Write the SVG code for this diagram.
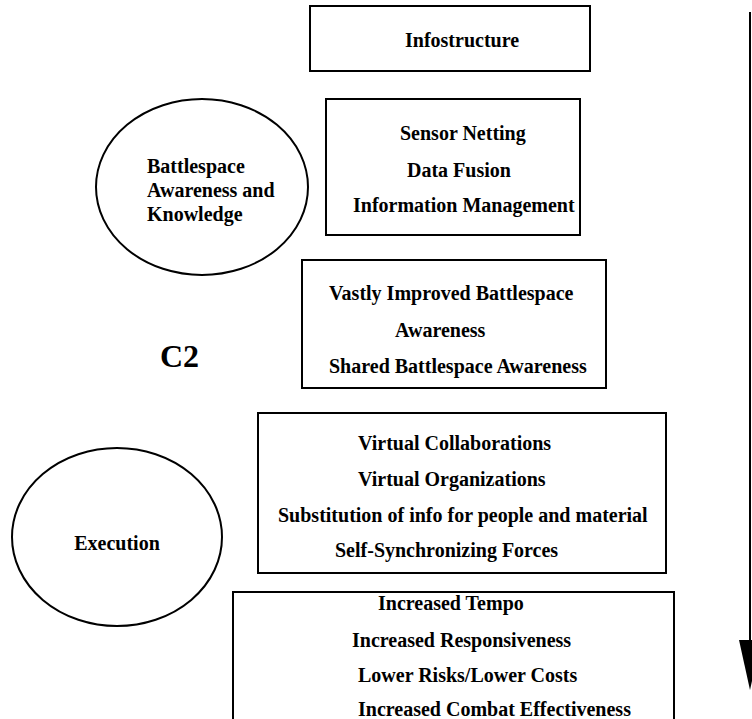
<svg xmlns="http://www.w3.org/2000/svg" width="752" height="719" viewBox="0 0 752 719">
<defs>
<style>
.box{fill:#fff;stroke:#000;stroke-width:2}
.ell{fill:#fff;stroke:#000;stroke-width:2}
text{font-family:"Liberation Serif","Times New Roman",serif;font-weight:bold;font-size:20px;fill:#000}
.c2{font-size:32px}
.conn{stroke:#000;stroke-width:2;fill:none}
</style>
<marker id="ah" markerWidth="10" markerHeight="12" refX="5" refY="12" orient="auto" markerUnits="userSpaceOnUse" viewBox="0 0 10 12">
<path d="M0,0 L10,0 L5,12 Z" fill="#000"/>
</marker>
</defs>
<rect width="752" height="719" fill="#fff"/>
<g id="connectors">
<line class="conn" x1="750" y1="12" x2="750" y2="640"/>
<path d="M739,640 L761,640 L750,690 Z" fill="#000"/>
</g>
<g id="infostructure">
<rect class="box" x="310" y="6" width="280" height="65"/>
<text x="405" y="47">Infostructure</text>
</g>
<g id="sensor">
<rect class="box" x="326" y="99" width="254" height="136"/>
<text x="400" y="140">Sensor Netting</text>
<text x="407" y="177">Data Fusion</text>
<text x="353" y="212">Information Management</text>
</g>
<g id="battlespace">
<ellipse class="ell" cx="202" cy="187" rx="106" ry="88"/>
<text x="147" y="173">Battlespace</text>
<text x="147" y="197">Awareness and</text>
<text x="147" y="221">Knowledge</text>
</g>
<g id="vastly">
<rect class="box" x="302" y="260" width="304" height="128"/>
<text x="329" y="300">Vastly Improved Battlespace</text>
<text x="395" y="337">Awareness</text>
<text x="329" y="373">Shared Battlespace Awareness</text>
</g>
<g id="c2">
<text class="c2" x="160" y="367">C2</text>
</g>
<g id="virtual">
<rect class="box" x="258" y="413" width="408" height="160"/>
<text x="358" y="450">Virtual Collaborations</text>
<text x="358" y="486">Virtual Organizations</text>
<text x="278" y="522">Substitution of info for people and material</text>
<text x="335" y="557">Self-Synchronizing Forces</text>
</g>
<g id="execution">
<ellipse class="ell" cx="117" cy="537" rx="105" ry="89"/>
<text x="117" y="550" text-anchor="middle">Execution</text>
</g>
<g id="increased">
<rect class="box" x="233" y="592" width="441" height="140"/>
<text x="378" y="610">Increased Tempo</text>
<text x="352" y="647">Increased Responsiveness</text>
<text x="358" y="682">Lower Risks/Lower Costs</text>
<text x="358" y="716">Increased Combat Effectiveness</text>
</g>
</svg>
